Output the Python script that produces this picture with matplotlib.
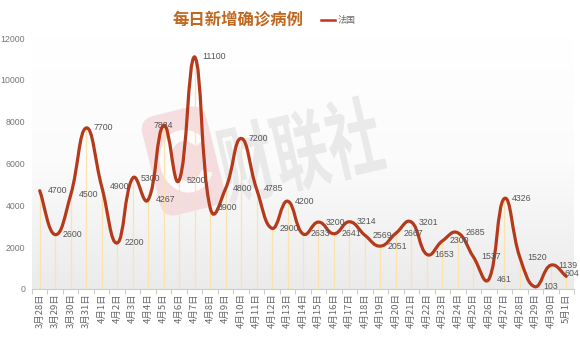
import numpy as np
import matplotlib
matplotlib.use('Agg')
import matplotlib.pyplot as plt
from matplotlib.path import Path
from matplotlib.patches import PathPatch, FancyBboxPatch, Arc
from matplotlib.colors import LinearSegmentedColormap
from matplotlib.lines import Line2D
from matplotlib.textpath import TextPath
from matplotlib.font_manager import FontProperties
import matplotlib.transforms as mtransforms

# ---------------- data ----------------
dates = ['3月28日', '3月29日', '3月30日', '3月31日',
         '4月1日', '4月2日', '4月3日', '4月4日', '4月5日', '4月6日', '4月7日',
         '4月8日', '4月9日', '4月10日', '4月11日', '4月12日', '4月13日', '4月14日',
         '4月15日', '4月16日', '4月17日', '4月18日', '4月19日', '4月20日', '4月21日',
         '4月22日', '4月23日', '4月24日', '4月25日', '4月26日', '4月27日', '4月28日',
         '4月29日', '4月30日', '5月1日']
france = [4700, 2600, 4500, 7700, 4900, 2200, 5300, 4267, 7824, 5200, 11100,
          3900, 4800, 7200, 4785, 2900, 4200, 2633, 3200, 2641, 3214, 2569,
          2051, 2667, 3201, 1653, 2300, 2685, 1537, 461, 4326, 1520, 103, 1139, 604]
yticks = [0, 2000, 4000, 6000, 8000, 10000, 12000]
title = '每日新增确诊病例'
series_name = '法国'
watermark = '财联社'

# ---------------- style ----------------
W, H = 580, 339
LINE_C = '#b53a1c'
CJK = ['Noto Sans CJK SC', 'DejaVu Sans']
NUM = ['Liberation Sans', 'DejaVu Sans']

fig = plt.figure(figsize=(W / 100, H / 100), dpi=100)
fig.patch.set_facecolor('white')
left_px, right_px, top_px, bot_px = 32, 574, 38, 289
ax = fig.add_axes([left_px / W, (H - bot_px) / H,
                   (right_px - left_px) / W, (bot_px - top_px) / H])

n = len(france)
x = np.arange(n, dtype=float)
y = np.array(france, dtype=float)
ax.set_xlim(-0.5, n - 0.5)
ax.set_ylim(yticks[0], yticks[-1])

# background gradient
cmap = LinearSegmentedColormap.from_list('bg', ['#ffffff', '#fbfbfb', '#ebebeb'])
ax.imshow(np.linspace(1, 0, 256).reshape(-1, 1), cmap=cmap, aspect='auto',
          extent=[-0.5, n - 0.5, yticks[0], yticks[-1]], origin='lower', zorder=0)

# watermark logo
rot = mtransforms.Affine2D().rotate_deg_around(183, H - 160, 14)
box = FancyBboxPatch((150, H - 212), 66, 102, boxstyle='round,pad=0,rounding_size=15',
                     transform=rot, facecolor='#f4d6d9', edgecolor='none',
                     alpha=0.8, zorder=1, clip_on=False)
ax.add_patch(box)
arc = Arc((186, H - 162), 42, 52, theta1=40, theta2=320, transform=rot,
          edgecolor='white', lw=8, alpha=0.9, zorder=1.1, clip_on=False)
ax.add_patch(arc)

# watermark text (condensed, rotated)
tp = TextPath((0, 0), watermark, size=1,
              prop=FontProperties(family='Noto Sans CJK SC', weight='bold'))
bb = tp.get_extents()
tr = (mtransforms.Affine2D()
      .translate(-(bb.x0 + bb.x1) / 2, -(bb.y0 + bb.y1) / 2)
      .scale(162 / bb.width, 82 / bb.height)
      .rotate_deg(13)
      .translate(300, H - 150))
ax.add_patch(PathPatch(tp, transform=tr, facecolor='#e4e4e4', edgecolor='none',
                       alpha=0.75, zorder=1, clip_on=False))

# drop lines
ax.vlines(x, 0, y, colors='#fbe2ae', lw=0.9, zorder=2)

# smooth line (bezier smoothing through data points, softened distance weighting)
fig.canvas.draw()
disp = ax.transData.transform(np.column_stack([x, y]))
smooth = 0.45
ymin, ymax = y.min(), y.max()
cin, cout = [], []
for i in range(n):
    ip, inx = max(i - 1, 0), min(i + 1, n - 1)
    v = np.array([x[inx] - x[ip], y[inx] - y[ip]])
    d0 = np.hypot(*(disp[i] - disp[ip]))
    d1 = np.hypot(*(disp[inx] - disp[i]))
    s = d0 + d1
    r0 = d0 / s if s else 0.5
    r1 = d1 / s if s else 0.5
    r0 = 0.5 * r0 + 0.25
    r1 = 0.5 * r1 + 0.25
    p = np.array([x[i], y[i]])
    a = p - v * smooth * r0
    b = p + v * smooth * r1
    a[1] = np.clip(a[1], ymin, ymax)
    b[1] = np.clip(b[1], ymin, ymax)
    cin.append(a)
    cout.append(b)
verts = [(x[0], y[0])]
codes = [Path.MOVETO]
for i in range(n - 1):
    verts += [tuple(cout[i]), tuple(cin[i + 1]), (x[i + 1], y[i + 1])]
    codes += [Path.CURVE4] * 3
ax.add_patch(PathPatch(Path(verts, codes), fill=False, edgecolor=LINE_C, lw=2.3,
                       capstyle='round', joinstyle='round', zorder=5))

# data labels
for i, v in enumerate(france):
    if i == 8:
        off, ha = (0, 0), 'center'
    elif i == n - 1:
        off, ha = (-1.5, 2), 'left'
    else:
        off, ha = (5.5, 0), 'left'
    ax.annotate(str(v), (x[i], y[i]), xytext=off, textcoords='offset points',
                ha=ha, va='center', fontsize=6.3, family=NUM, color='#555555', zorder=6)

# axes
for sp in ['top', 'right', 'left']:
    ax.spines[sp].set_visible(False)
ax.spines['bottom'].set_color('#cccccc')
ax.spines['bottom'].set_linewidth(0.8)
ax.spines['bottom'].set_zorder(7)
ax.set_xticks(x)
ax.set_xticklabels(dates, rotation=90, fontsize=6.8, color='#666666')
for t in ax.get_xticklabels():
    t.set_fontfamily(CJK)
ax.set_xticks(np.arange(n + 1) - 0.5, minor=True)
ax.tick_params(axis='x', which='major', length=0, pad=3)
ax.tick_params(axis='x', which='minor', length=3.5, color='#cccccc', width=0.8)
ax.set_yticks(yticks)
ax.set_yticklabels([str(t) for t in yticks], fontsize=6.3, color='#777777')
for t in ax.get_yticklabels():
    t.set_fontfamily(NUM)
ax.tick_params(axis='y', length=0, pad=5)

# title & legend
fig.text(238.5 / W, (H - 20) / H, title, family=CJK, fontsize=11.8, fontweight='bold',
         color='#c0681f', ha='center', va='center')
fig.add_artist(Line2D([321 / W, 335 / W], [(H - 20) / H] * 2, transform=fig.transFigure,
                      color='#c8321a', lw=1.8))
fig.text(338 / W, (H - 20) / H, series_name, family=CJK, fontsize=6.5, color='#666666',
         ha='left', va='center')

fig.savefig('out.png', dpi=100, facecolor='white')
